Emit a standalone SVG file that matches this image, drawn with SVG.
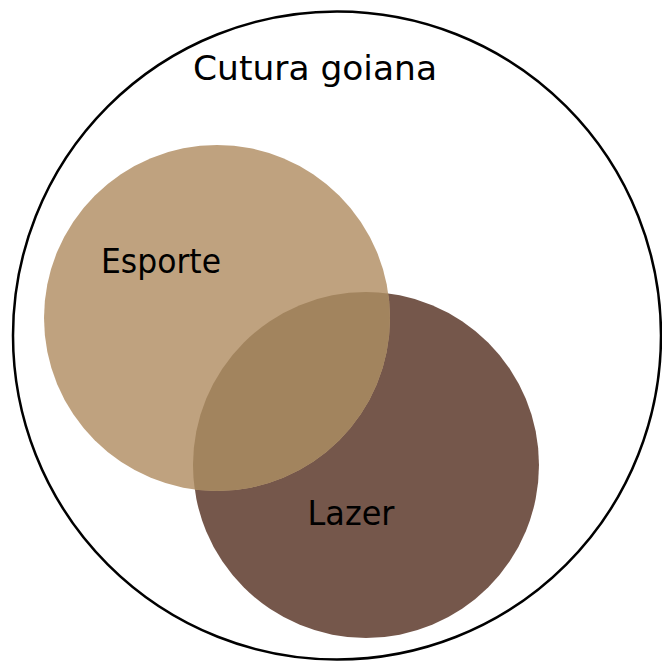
<svg xmlns="http://www.w3.org/2000/svg" width="662" height="662" viewBox="0 0 662 662">
<style>
text{font-family:"DejaVu Sans","Liberation Sans",sans-serif;font-size:33px;fill:#000;text-anchor:middle}
</style>
<defs>
<clipPath id="clipE"><circle cx="217" cy="318" r="173"/></clipPath>
</defs>
<rect width="662" height="662" fill="#fff"/>
<g id="cultura">
<circle cx="337" cy="335.5" r="324" fill="none" stroke="#000" stroke-width="2.5"/>
<text x="315" y="80" textLength="244" lengthAdjust="spacingAndGlyphs">Cutura goiana</text>
</g>
<g id="lazer">
<circle cx="366" cy="465" r="173" fill="#75574B"/>
</g>
<g id="esporte">
<circle cx="217" cy="318" r="173" fill="#BFA27F"/>
<circle cx="366" cy="465" r="173" fill="#A2845E" clip-path="url(#clipE)"/>
<text x="161" y="273" textLength="120" lengthAdjust="spacingAndGlyphs">Esporte</text>
</g>
<g id="lazer-label">
<text x="351" y="525" textLength="87" lengthAdjust="spacingAndGlyphs">Lazer</text>
</g>
</svg>
